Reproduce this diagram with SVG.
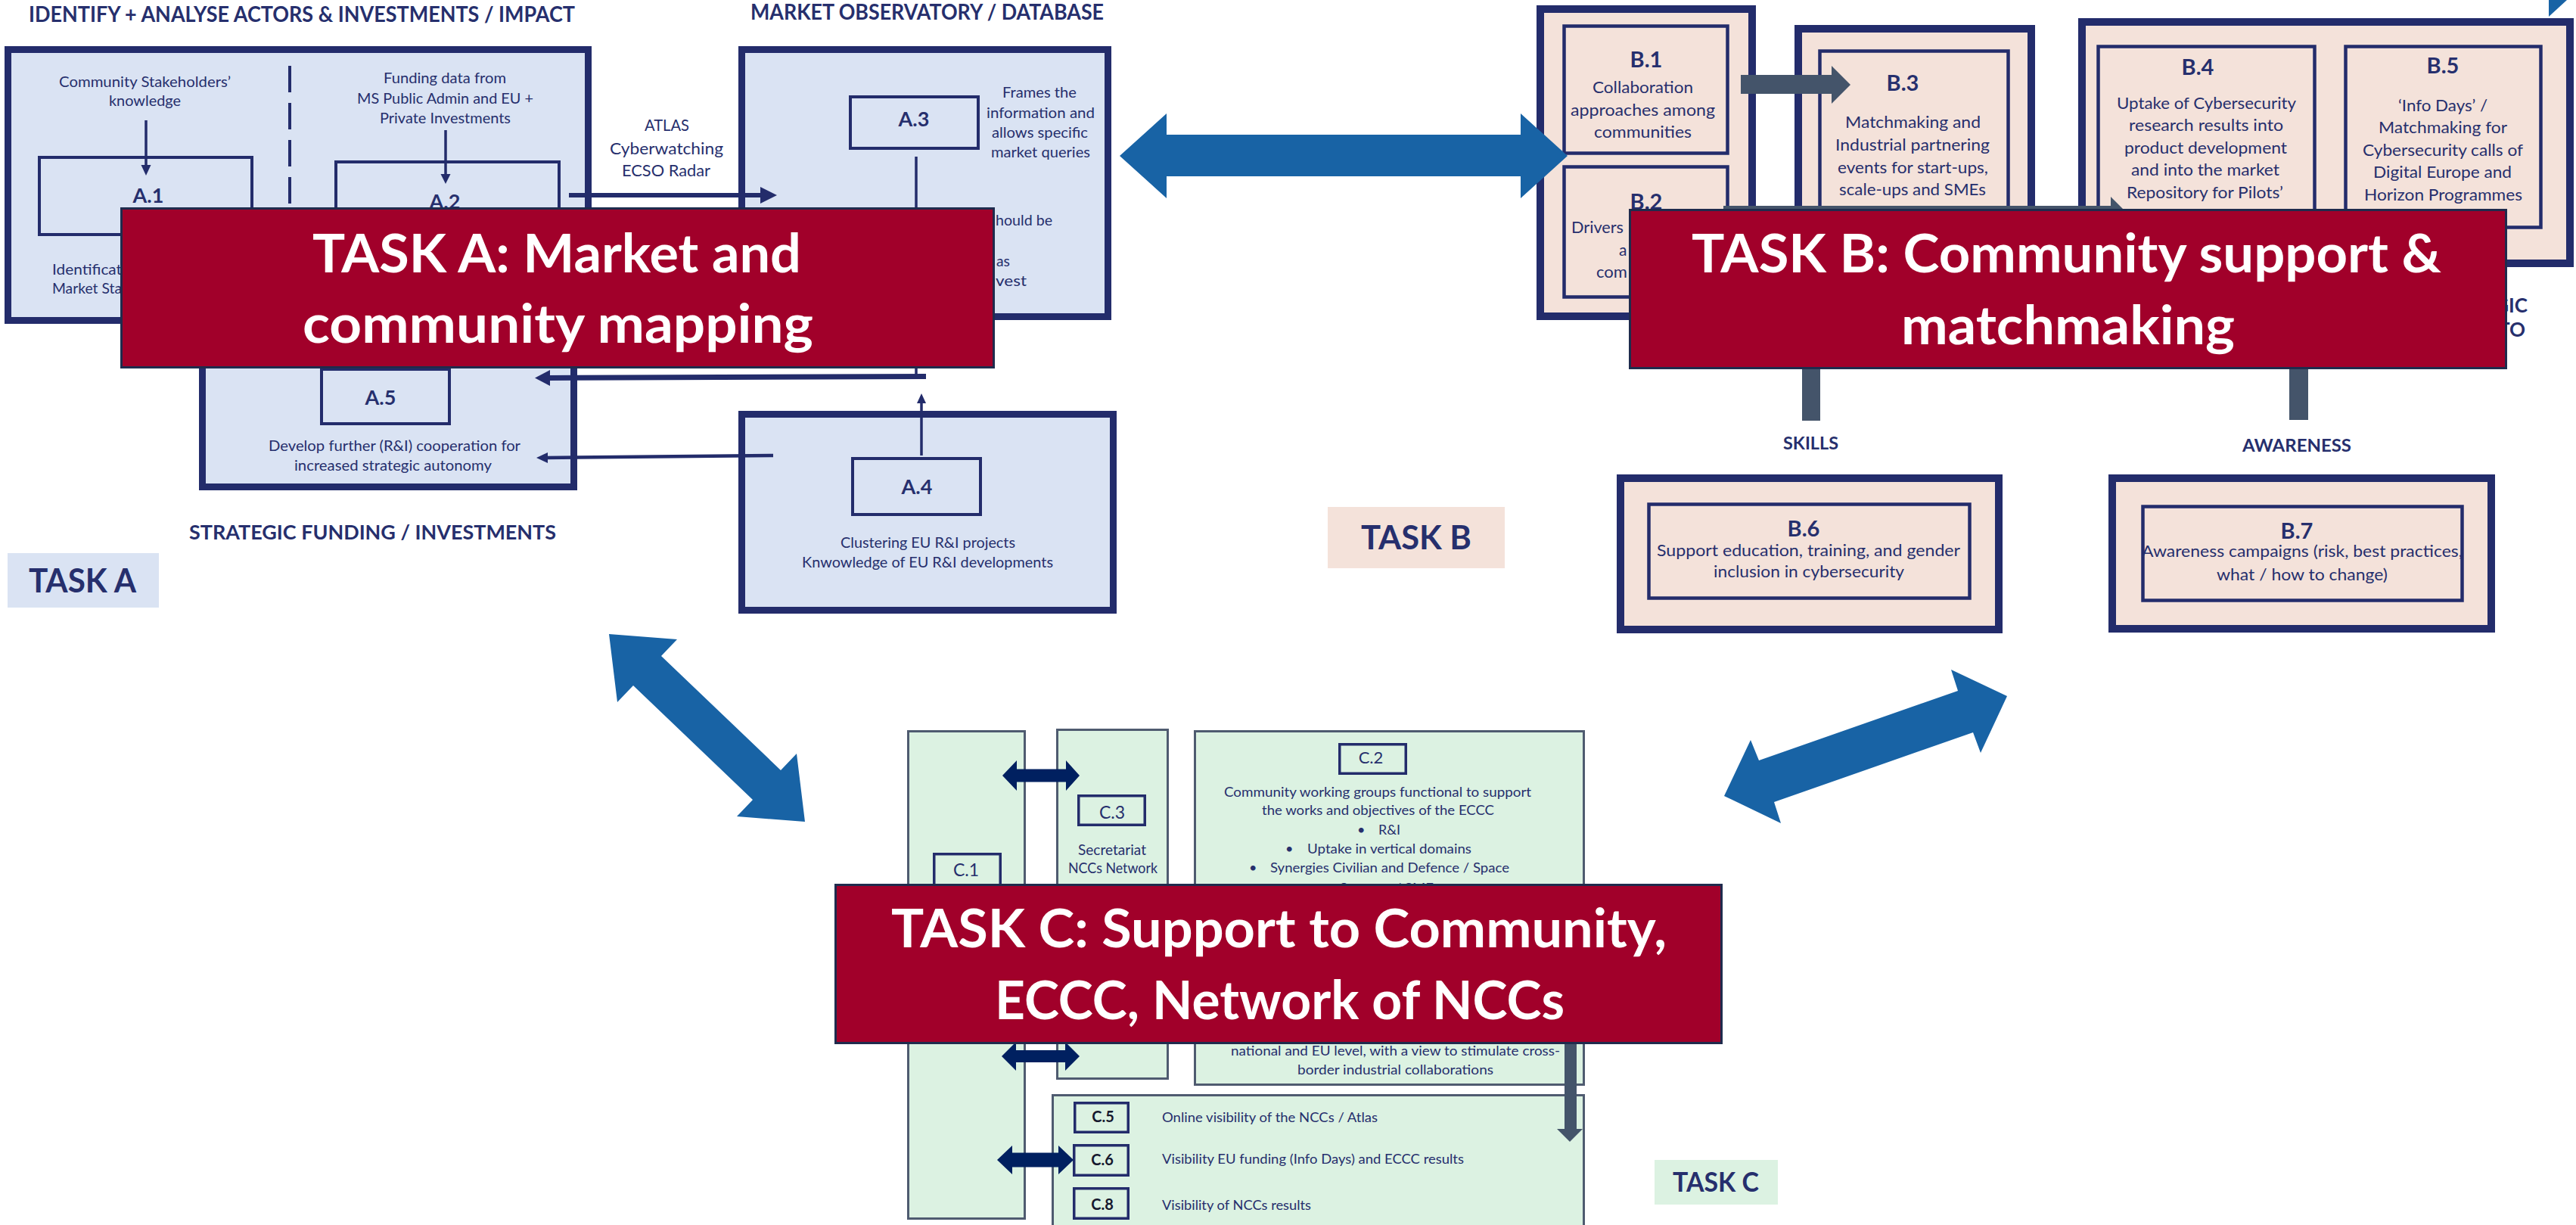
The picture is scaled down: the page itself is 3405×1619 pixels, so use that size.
<svg xmlns="http://www.w3.org/2000/svg" width="3405" height="1619" viewBox="0 0 3405 1619">
<style>
text{font-family:Lato,'Liberation Sans',sans-serif;fill:#262F6D}
.b{font-weight:bold}
.s{font-size:20px}
.m{font-size:21px}
.c{font-size:18px}
.lab{font-size:27px;font-weight:bold;text-anchor:middle}
.labb{font-size:29px;font-weight:bold;text-anchor:middle}
.labc{font-size:23px;text-anchor:middle}
.labk{font-size:20px;font-weight:bold;text-anchor:middle;fill:#15182E}
.hd{font-size:28px;font-weight:bold}
.bt{font-size:70px;font-weight:bold;fill:#FFFFFF}
.oa{fill:#DAE3F3;stroke:#232C6B;stroke-width:9}
.ia{fill:none;stroke:#232C6B;stroke-width:4}
.ob{fill:#F4E2DA;stroke:#232C6B;stroke-width:10}
.ib{fill:none;stroke:#232C6B;stroke-width:4.5}
.pc{fill:#DCF2E2;stroke:#4F5B70;stroke-width:3}
.ic{fill:none;stroke:#232C6B;stroke-width:3.5}
.ban{fill:#A1002A;stroke:#1F2B4D;stroke-width:3}
.ln{stroke:#232C6B;fill:none}
.hn{fill:#232C6B}
.big{fill:#1863A5}
.gr{fill:#44546A}
.dk{fill:#002060}
</style>

<!-- ===== TASK A nodes ===== -->
<g id="a-identify">
  <text class="hd" x="38" y="29" textLength="722" lengthAdjust="spacingAndGlyphs">IDENTIFY + ANALYSE ACTORS &amp; INVESTMENTS / IMPACT</text>
  <rect class="oa" x="10.5" y="65.5" width="767" height="358"/>
  <line x1="383" y1="87" x2="383" y2="420" stroke="#232C6B" stroke-width="4" stroke-dasharray="35 14"/>
  <text class="s" x="78" y="115" textLength="227" lengthAdjust="spacingAndGlyphs">Community Stakeholders’</text>
  <text class="s" x="144" y="140" textLength="95" lengthAdjust="spacingAndGlyphs">knowledge</text>
  <text class="s" x="507" y="110" textLength="162" lengthAdjust="spacingAndGlyphs">Funding data from</text>
  <text class="s" x="472" y="137" textLength="233" lengthAdjust="spacingAndGlyphs">MS Public Admin and EU +</text>
  <text class="s" x="502" y="163" textLength="173" lengthAdjust="spacingAndGlyphs">Private Investments</text>
  <g id="node-a1">
    <rect class="ia" x="52" y="208" width="281" height="102"/>
    <text class="lab" x="196" y="268">A.1</text>
    <text class="s" x="69" y="363" textLength="92" lengthAdjust="spacingAndGlyphs">Identificat</text>
    <text class="s" x="69" y="388" textLength="92" lengthAdjust="spacingAndGlyphs">Market Sta</text>
  </g>
  <g id="node-a2">
    <rect class="ia" x="444" y="214" width="295" height="102"/>
    <text class="lab" x="588" y="276">A.2</text>
  </g>
</g>

<g id="node-a3">
  <text class="hd" x="992" y="26" textLength="467" lengthAdjust="spacingAndGlyphs">MARKET OBSERVATORY / DATABASE</text>
  <rect class="oa" x="980.5" y="65.5" width="484" height="353"/>
  <rect class="ia" x="1124" y="128" width="169" height="68"/>
  <text class="lab" x="1208" y="167">A.3</text>
  <text class="s" x="1325" y="129" textLength="98" lengthAdjust="spacingAndGlyphs">Frames the</text>
  <text class="s" x="1304" y="156" textLength="143" lengthAdjust="spacingAndGlyphs">information and</text>
  <text class="s" x="1311" y="182" textLength="127" lengthAdjust="spacingAndGlyphs">allows specific</text>
  <text class="s" x="1310" y="208" textLength="131" lengthAdjust="spacingAndGlyphs">market queries</text>
  <text class="s" x="1316" y="298" textLength="75" lengthAdjust="spacingAndGlyphs">hould be</text>
  <text class="s" x="1317" y="352" textLength="18" lengthAdjust="spacingAndGlyphs">as</text>
  <text class="s" x="1316" y="378" textLength="41" lengthAdjust="spacingAndGlyphs">vest</text>
</g>

<g id="node-a5">
  <rect class="oa" x="267.5" y="454.5" width="491" height="189"/>
  <rect class="ia" x="425" y="488" width="169" height="72"/>
  <text class="lab" x="503" y="535">A.5</text>
  <text class="s" x="355" y="596" textLength="333" lengthAdjust="spacingAndGlyphs">Develop further (R&amp;I) cooperation for</text>
  <text class="s" x="389" y="622" textLength="261" lengthAdjust="spacingAndGlyphs">increased strategic autonomy</text>
  <text class="hd" style="font-size:26px" x="250" y="713" textLength="485" lengthAdjust="spacingAndGlyphs">STRATEGIC FUNDING / INVESTMENTS</text>
</g>

<g id="node-a4">
  <rect class="oa" x="980.5" y="547.5" width="491" height="259"/>
  <rect class="ia" x="1127" y="606" width="169" height="74"/>
  <text class="lab" x="1212" y="653">A.4</text>
  <text class="s" x="1111" y="724" textLength="231" lengthAdjust="spacingAndGlyphs">Clustering EU R&amp;I projects</text>
  <text class="s" x="1060" y="750" textLength="332" lengthAdjust="spacingAndGlyphs">Knwowledge of EU R&amp;I developments</text>
</g>

<!-- ===== TASK B nodes ===== -->
<g id="node-b12">
  <rect class="ob" x="2036" y="12" width="280" height="406"/>
  <g id="node-b1">
    <rect class="ib" x="2067.5" y="34.5" width="216" height="168"/>
    <text class="labb" x="2176" y="89">B.1</text>
    <text class="m" x="2105" y="123" textLength="133" lengthAdjust="spacingAndGlyphs">Collaboration</text>
    <text class="m" x="2076" y="153" textLength="191" lengthAdjust="spacingAndGlyphs">approaches among</text>
    <text class="m" x="2107" y="182" textLength="129" lengthAdjust="spacingAndGlyphs">communities</text>
  </g>
  <g id="node-b2">
    <rect class="ib" x="2067.5" y="220.5" width="216" height="172"/>
    <text class="labb" x="2176" y="277">B.2</text>
    <text class="m" x="2077" y="308" textLength="69" lengthAdjust="spacingAndGlyphs">Drivers</text>
    <text class="m" x="2140" y="338">a</text>
    <text class="m" x="2110" y="367" textLength="41" lengthAdjust="spacingAndGlyphs">com</text>
  </g>
</g>

<g id="node-b3">
  <rect class="ob" x="2377" y="38" width="308" height="357"/>
  <rect class="ib" x="2405.5" y="67.5" width="249" height="310"/>
  <text class="labb" x="2515" y="120">B.3</text>
  <text class="m" x="2439" y="169" textLength="179" lengthAdjust="spacingAndGlyphs">Matchmaking and</text>
  <text class="m" x="2426" y="199" textLength="204" lengthAdjust="spacingAndGlyphs">Industrial partnering</text>
  <text class="m" x="2429" y="229" textLength="199" lengthAdjust="spacingAndGlyphs">events for start-ups,</text>
  <text class="m" x="2431" y="258" textLength="194" lengthAdjust="spacingAndGlyphs">scale-ups and SMEs</text>
</g>

<g id="node-b45">
  <rect class="ob" x="2752" y="29" width="645" height="319"/>
  <g id="node-b4">
    <rect class="ib" x="2773.5" y="61.5" width="286" height="239"/>
    <text class="labb" x="2905" y="99">B.4</text>
    <text class="m" x="2798" y="144" textLength="237" lengthAdjust="spacingAndGlyphs">Uptake of Cybersecurity</text>
    <text class="m" x="2814" y="173" textLength="204" lengthAdjust="spacingAndGlyphs">research results into</text>
    <text class="m" x="2808" y="203" textLength="215" lengthAdjust="spacingAndGlyphs">product development</text>
    <text class="m" x="2817" y="232" textLength="196" lengthAdjust="spacingAndGlyphs">and into the market</text>
    <text class="m" x="2811" y="262" textLength="207" lengthAdjust="spacingAndGlyphs">Repository for Pilots’</text>
  </g>
  <g id="node-b5">
    <rect class="ib" x="3100.5" y="61.5" width="258" height="239"/>
    <text class="labb" x="3229" y="97">B.5</text>
    <text class="m" x="3170" y="147" textLength="118" lengthAdjust="spacingAndGlyphs">‘Info Days’ /</text>
    <text class="m" x="3144" y="176" textLength="170" lengthAdjust="spacingAndGlyphs">Matchmaking for</text>
    <text class="m" x="3123" y="206" textLength="212" lengthAdjust="spacingAndGlyphs">Cybersecurity calls of</text>
    <text class="m" x="3137" y="235" textLength="183" lengthAdjust="spacingAndGlyphs">Digital Europe and</text>
    <text class="m" x="3125" y="265" textLength="209" lengthAdjust="spacingAndGlyphs">Horizon Programmes</text>
  </g>
</g>
<g id="b-fragments">
  <text class="b" style="font-size:26px;text-anchor:end" x="3341" y="413">GIC</text>
  <text class="b" style="font-size:26px;text-anchor:end" x="3338" y="445">TO</text>
</g>

<g id="node-b6">
  <text class="b" style="font-size:23px" x="2357" y="594" textLength="73" lengthAdjust="spacingAndGlyphs">SKILLS</text>
  <rect class="ob" x="2142" y="632" width="500" height="200"/>
  <rect class="ib" x="2179.5" y="666.5" width="424" height="124"/>
  <text class="labb" x="2384" y="709">B.6</text>
  <text class="m" x="2190" y="735" textLength="401" lengthAdjust="spacingAndGlyphs">Support education, training, and gender</text>
  <text class="m" x="2265" y="763" textLength="252" lengthAdjust="spacingAndGlyphs">inclusion in cybersecurity</text>
</g>

<g id="node-b7">
  <text class="b" style="font-size:23px" x="2964" y="597" textLength="144" lengthAdjust="spacingAndGlyphs">AWARENESS</text>
  <rect class="ob" x="2792" y="632" width="501" height="199"/>
  <rect class="ib" x="2832.5" y="669.5" width="422" height="124"/>
  <text class="labb" x="3036" y="712">B.7</text>
  <text class="m" x="2831" y="736" textLength="424" lengthAdjust="spacingAndGlyphs">Awareness campaigns (risk, best practices,</text>
  <text class="m" x="2930" y="767" textLength="226" lengthAdjust="spacingAndGlyphs">what / how to change)</text>
</g>

<!-- ===== TASK C nodes ===== -->
<g id="node-c1">
  <rect class="pc" x="1200.5" y="966.5" width="154" height="644"/>
  <rect class="ic" x="1234.75" y="1128.75" width="87.5" height="44"/>
  <text class="labc" x="1277" y="1158">C.1</text>
</g>
<g id="node-c3">
  <rect class="pc" x="1397.5" y="964.5" width="146" height="461"/>
  <rect class="ic" x="1425.75" y="1051.75" width="87.5" height="38.5"/>
  <text class="labc" x="1470" y="1082">C.3</text>
  <text class="c" style="font-size:19px" x="1425" y="1130" textLength="90" lengthAdjust="spacingAndGlyphs">Secretariat</text>
  <text class="c" style="font-size:19px" x="1412" y="1154" textLength="118" lengthAdjust="spacingAndGlyphs">NCCs Network</text>
</g>
<g id="node-c2">
  <rect class="pc" x="1579.5" y="966.5" width="514" height="467"/>
  <rect class="ic" x="1770.75" y="983.75" width="87.5" height="38.5"/>
  <text class="labc" style="font-size:22px" x="1812" y="1009">C.2</text>
  <text class="c" x="1618" y="1053" textLength="406" lengthAdjust="spacingAndGlyphs">Community working groups functional to support</text>
  <text class="c" x="1668" y="1077" textLength="307" lengthAdjust="spacingAndGlyphs">the works and objectives of the ECCC</text>
  <text class="c" x="1794" y="1103">•</text>
  <text class="c" x="1822" y="1103" textLength="29" lengthAdjust="spacingAndGlyphs">R&amp;I</text>
  <text class="c" x="1699" y="1128">•</text>
  <text class="c" x="1728" y="1128" textLength="217" lengthAdjust="spacingAndGlyphs">Uptake in vertical domains</text>
  <text class="c" x="1651" y="1153">•</text>
  <text class="c" x="1679" y="1153" textLength="316" lengthAdjust="spacingAndGlyphs">Synergies Civilian and Defence / Space</text>
  <text class="c" x="1771" y="1180" textLength="124" lengthAdjust="spacingAndGlyphs">Startups / SME</text>
  <text class="c" x="1627" y="1395" textLength="435" lengthAdjust="spacingAndGlyphs">national and EU level, with a view to stimulate cross-</text>
  <text class="c" x="1715" y="1420" textLength="259" lengthAdjust="spacingAndGlyphs">border industrial collaborations</text>
</g>
<g id="node-c568">
  <rect class="pc" x="1391.5" y="1447.5" width="702" height="180"/>
  <g id="node-c5">
    <rect class="ic" x="1420.75" y="1457.75" width="70.5" height="38.5"/>
    <text class="labk" x="1458" y="1483">C.5</text>
    <text class="c" x="1536" y="1483" textLength="285" lengthAdjust="spacingAndGlyphs">Online visibility of the NCCs / Atlas</text>
  </g>
  <g id="node-c6">
    <rect class="ic" x="1419.75" y="1513.75" width="71.5" height="39.5"/>
    <text class="labk" x="1457" y="1540">C.6</text>
    <text class="c" x="1536" y="1538" textLength="399" lengthAdjust="spacingAndGlyphs">Visibility EU funding (Info Days) and ECCC results</text>
  </g>
  <g id="node-c8">
    <rect class="ic" x="1419.75" y="1570.75" width="71.5" height="39.5"/>
    <text class="labk" x="1457" y="1599">C.8</text>
    <text class="c" x="1536" y="1599" textLength="197" lengthAdjust="spacingAndGlyphs">Visibility of NCCs results</text>
  </g>
</g>

<!-- ===== Connectors ===== -->
<g id="connectors">
  <!-- Task A thin arrows -->
  <line class="ln" x1="193" y1="159" x2="193" y2="220" stroke-width="3.5"/>
  <polygon class="hn" points="186.5,218 199.5,218 193,232"/>
  <line class="ln" x1="589" y1="172" x2="589" y2="231" stroke-width="3.5"/>
  <polygon class="hn" points="582.5,230 595.5,230 589,243"/>
  <line class="ln" x1="752" y1="258" x2="1007" y2="258" stroke-width="6"/>
  <polygon class="hn" points="1005,247 1027,258 1005,269"/>
  <text class="m" x="852" y="173" textLength="59" lengthAdjust="spacingAndGlyphs">ATLAS</text>
  <text class="m" x="806" y="204" textLength="150" lengthAdjust="spacingAndGlyphs">Cyberwatching</text>
  <text class="m" x="822" y="233" textLength="117" lengthAdjust="spacingAndGlyphs">ECSO Radar</text>
  <line class="ln" x1="1211" y1="207" x2="1211" y2="497" stroke-width="3.5"/>
  <line class="ln" x1="1224" y1="497.5" x2="724" y2="499.5" stroke-width="7"/>
  <polygon class="hn" points="727,489 707,499.5 727,510"/>
  <line class="ln" x1="1022" y1="602" x2="722" y2="605" stroke-width="4.5"/>
  <polygon class="hn" points="724,598 709,605 724,612"/>
  <line class="ln" x1="1218" y1="602" x2="1218" y2="531" stroke-width="3.5"/>
  <polygon class="hn" points="1212,533 1218,520 1224,533"/>

  <!-- big inter-task arrows -->
  <polygon class="big" points="1480,206 1542,150 1542,178 2010,178 2010,150 2072,206 2010,262 2010,233 1542,233 1542,262"/>
  <polygon class="big" points="805,838 895,845 874,867 1032,1018 1053,996 1064,1086 974,1079 995,1057 837,906 816,928"/>
  <polygon class="big" points="2279,1052 2314,978 2325,1005 2588,913 2579,885 2653,920 2618,995 2608,968 2345,1060 2354,1088"/>
  <polygon class="big" points="3369,0 3393,0 3369,22"/>

  <!-- Task B grey arrows -->
  <polygon class="gr" points="2301,99 2421,99 2421,87 2446,112 2421,137 2421,124 2301,124"/>
  <polygon class="gr" points="2278,272 2790,272 2790,260 2815,285 2790,310 2790,297 2278,297"/>
  <rect class="gr" x="2382" y="440" width="24" height="116"/>
  <rect class="gr" x="3026" y="440" width="25" height="115"/>

  <!-- Task C arrows -->
  <polygon class="gr" points="2068,1300 2084,1300 2084,1492 2092,1492 2075,1509 2058,1492 2068,1492"/>
  <polygon class="dk" points="1325,1025 1344,1005 1344,1016.5 1409,1016.5 1409,1005 1427,1025 1409,1045 1409,1033.5 1344,1033.5 1344,1045"/>
  <polygon class="dk" points="1324,1396 1343,1377 1343,1388 1408,1388 1408,1377 1427,1396 1408,1415 1408,1404 1343,1404 1343,1415"/>
  <polygon class="dk" points="1318,1533 1338,1514 1338,1523.5 1399,1523.5 1399,1514 1419,1533 1399,1552 1399,1542.5 1338,1542.5 1338,1552"/>
</g>

<!-- ===== Title banners ===== -->
<g id="banner-a">
  <rect class="ban" x="160.5" y="275.5" width="1153" height="210"/>
  <text class="bt" x="413" y="360" textLength="646" lengthAdjust="spacingAndGlyphs">TASK A: Market and</text>
  <text class="bt" x="400" y="453" textLength="675" lengthAdjust="spacingAndGlyphs">community mapping</text>
</g>
<g id="banner-b">
  <rect class="ban" x="2154.5" y="277.5" width="1158" height="209"/>
  <text class="bt" x="2236" y="360" textLength="991" lengthAdjust="spacingAndGlyphs">TASK B: Community support &amp;</text>
  <text class="bt" x="2513" y="455" textLength="441" lengthAdjust="spacingAndGlyphs">matchmaking</text>
</g>
<g id="banner-c">
  <rect class="ban" x="1104.5" y="1169.5" width="1171" height="209"/>
  <text class="bt" x="1178" y="1252" textLength="1025" lengthAdjust="spacingAndGlyphs">TASK C: Support to Community,</text>
  <text class="bt" x="1315" y="1347" textLength="753" lengthAdjust="spacingAndGlyphs">ECCC, Network of NCCs</text>
</g>

<!-- ===== Task labels ===== -->
<g id="label-task-a">
  <rect x="10" y="731" width="200" height="72" fill="#DAE3F3"/>
  <text class="b" style="font-size:43px" x="38" y="783" textLength="142" lengthAdjust="spacingAndGlyphs">TASK A</text>
</g>
<g id="label-task-b">
  <rect x="1755" y="670" width="234" height="81" fill="#F4E2DA"/>
  <text class="b" style="font-size:43px" x="1799" y="726" textLength="146" lengthAdjust="spacingAndGlyphs">TASK B</text>
</g>
<g id="label-task-c">
  <rect x="2187" y="1533" width="163" height="59" fill="#DCF2E2"/>
  <text class="b" style="font-size:36px" x="2211" y="1575" textLength="114" lengthAdjust="spacingAndGlyphs">TASK C</text>
</g>
</svg>
